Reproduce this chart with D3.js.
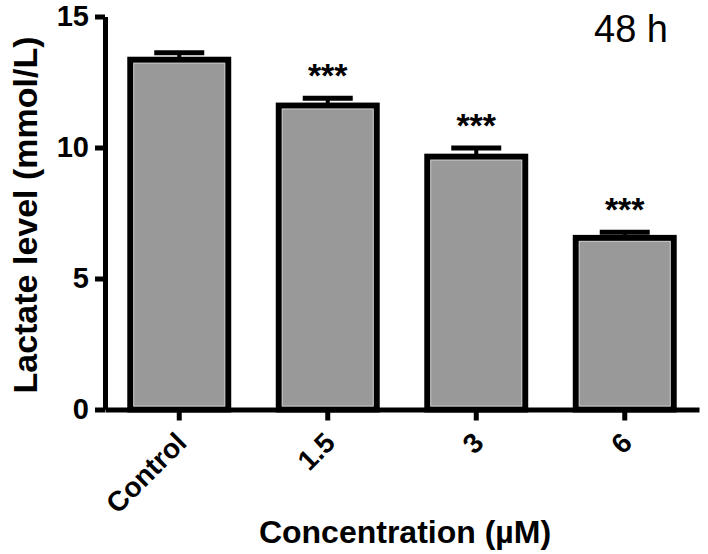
<!DOCTYPE html>
<html>
<head>
<meta charset="utf-8">
<script src="https://cdn.jsdelivr.net/npm/d3@7"></script>
<style>
  body { margin: 0; background: #fff; }
  svg { display: block; font-family: "Liberation Sans", Arial, sans-serif; }
</style>
</head>
<body>
<div id="chart"></div>
<script>
// values
const categories = ['Control', '1.5', '3', '6'];
const means = [13.35, 11.6, 9.65, 6.55];
const sems = [0.27, 0.28, 0.33, 0.22];
const stars = ['', '***', '***', '***'];
const yTicks = [0, 5, 10, 15];

const width = 708, height = 554;

const svg = d3.select('#chart')
    .append('svg')
    .attr('width', width)
    .attr('height', height);

const x = d3.scaleBand()
    .domain(categories)
    .range([105, 699])
    .paddingInner(0.3)
    .paddingOuter(0.15);

const y = d3.scaleLinear()
    .domain([0, 15])
    .range([409.5, 16.5]);

const data = categories.map((c, i) => ({ cat: c, mean: means[i], sem: sems[i], sig: stars[i] }));

// bars
const sw = 6;
const bars = svg.append('g');
bars.selectAll('rect.bar')
    .data(data)
    .enter()
    .append('rect')
    .attr('class', 'bar')
    .attr('x', d => x(d.cat) + sw / 2)
    .attr('y', d => y(d.mean))
    .attr('width', x.bandwidth() - sw)
    .attr('height', d => y(0) - y(d.mean))
    .attr('fill', '#999999')
    .attr('stroke', '#000')
    .attr('stroke-width', sw);
// faint light edge just inside the black outline
bars.selectAll('rect.edge')
    .data(data)
    .enter()
    .append('rect')
    .attr('class', 'edge')
    .attr('x', d => x(d.cat) + sw + 0.5)
    .attr('y', d => y(d.mean) + sw / 2 + 0.5)
    .attr('width', x.bandwidth() - 2 * sw - 1)
    .attr('height', d => y(0) - y(d.mean) - sw - 1)
    .attr('fill', 'none')
    .attr('stroke', '#c4c4c4')
    .attr('stroke-width', 1);

// error bars (upper half only)
const err = svg.append('g');
err.selectAll('line.stem')
    .data(data)
    .enter()
    .append('line')
    .attr('class', 'stem')
    .attr('x1', d => x(d.cat) + x.bandwidth() / 2)
    .attr('x2', d => x(d.cat) + x.bandwidth() / 2)
    .attr('y1', d => y(d.mean))
    .attr('y2', d => y(d.mean + d.sem))
    .attr('stroke', '#000')
    .attr('stroke-width', 4);
err.selectAll('line.cap')
    .data(data)
    .enter()
    .append('line')
    .attr('class', 'cap')
    .attr('x1', d => x(d.cat) + x.bandwidth() / 2 - 25)
    .attr('x2', d => x(d.cat) + x.bandwidth() / 2 + 25)
    .attr('y1', d => y(d.mean + d.sem))
    .attr('y2', d => y(d.mean + d.sem))
    .attr('stroke', '#000')
    .attr('stroke-width', 5);

// significance stars
svg.append('g')
    .selectAll('text')
    .data(data.filter(d => d.sig))
    .enter()
    .append('text')
    .attr('x', d => x(d.cat) + x.bandwidth() / 2)
    .attr('y', d => y(d.mean + d.sem) - 11)
    .attr('text-anchor', 'middle')
    .style('font-size', '34px')
    .style('font-weight', 'bold')
    .text(d => d.sig);

// y axis
const yAxis = svg.append('g')
    .attr('transform', 'translate(105,0)')
    .call(d3.axisLeft(y).tickValues(yTicks).tickSize(10).tickSizeOuter(0).tickPadding(6));
yAxis.select('.domain').attr('stroke-width', 5);
yAxis.selectAll('.tick line').attr('stroke-width', 5);
yAxis.selectAll('.tick text')
    .style('font-size', '29px')
    .style('font-weight', 'bold')
    .style('font-family', '"Liberation Sans", Arial, sans-serif');

// x axis
const xAxis = svg.append('g')
    .attr('transform', 'translate(0,' + y(0) + ')')
    .call(d3.axisBottom(x).tickSize(11).tickSizeOuter(0));
xAxis.select('.domain').attr('stroke-width', 5);
xAxis.selectAll('.tick line').attr('stroke-width', 5);
xAxis.selectAll('.tick text')
    .attr('y', 0)
    .attr('dy', 0)
    .attr('text-anchor', 'end')
    .attr('transform', 'translate(9,35) rotate(-45)')
    .style('font-size', '28px')
    .style('font-weight', 'bold')
    .style('font-family', '"Liberation Sans", Arial, sans-serif');

// axis titles
svg.append('text')
    .attr('transform', 'translate(37,215) rotate(-90)')
    .attr('text-anchor', 'middle')
    .style('font-size', '34px')
    .style('font-weight', 'bold')
    .text('Lactate level (mmol/L)');

svg.append('text')
    .attr('x', 405)
    .attr('y', 543)
    .attr('text-anchor', 'middle')
    .style('font-size', '32px')
    .style('font-weight', 'bold')
    .text('Concentration (\u00b5M)');

svg.append('text')
    .attr('x', 594)
    .attr('y', 42)
    .style('font-size', '38px')
    .text('48 h');
</script>
</body>
</html>
